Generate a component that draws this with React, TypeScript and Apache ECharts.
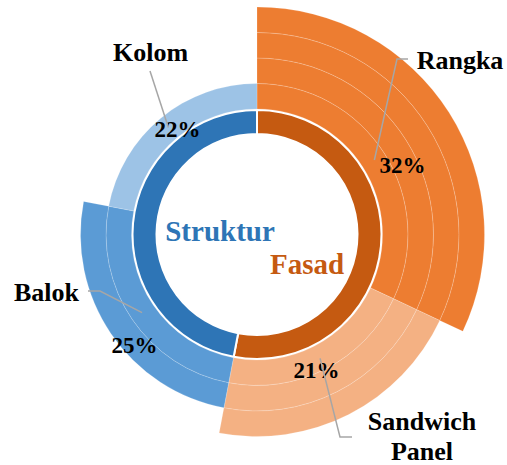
import React, { useEffect, useRef } from 'react';
import * as echarts from 'echarts';

// ---- data ----
const categories = ['Rangka', 'Sandwich Panel', 'Balok', 'Kolom'];
const shares = [32, 21, 25, 22];
// number of concentric bands each outer slice fills
const ringLevels = [4, 3, 2, 1];
const groups = ['Fasad', 'Struktur'];
const groupOfCategory = [0, 0, 1, 1];

// ---- styles / layout ----
const catColors = ['#ED7D31', '#F4B183', '#5B9BD5', '#9DC3E6'];
const groupColors = ['#C55A11', '#2E75B6'];
const CENTER: [number, number] = [257, 234.5];
const INNER_RADIUS: [number, number] = [100.5, 124.5];
const BAND_START = 125.5;
const BAND_WIDTH = 25.5;
const BAND_COUNT = 4;
const FONT = '"Liberation Serif", "Times New Roman", serif';

const PCT_POS = [
  [402.5, 165],
  [316.5, 370],
  [134.5, 345],
  [177.5, 129],
];
const NAME_POS = [
  [460, 60],
  [422, 436],
  [46.5, 292],
  [150.5, 52],
];
const NAME_LINE = [
  [[397, 59], [408, 59]],
  [[340, 437], [352, 437]],
  [[100, 291], [88, 291]],
  [[150, 71], [150, 71]],
];
const GROUP_POS = [
  [307, 264],
  [220, 231],
];

const groupShares = groups.map((_, g) =>
  shares.reduce((s, v, i) => (groupOfCategory[i] === g ? s + v : s), 0)
);

export default function App() {
  const ref = useRef<HTMLDivElement>(null);
  useEffect(() => {
    if (!ref.current) return;
    const chart = echarts.init(ref.current, undefined, { renderer: 'svg' });

    const bandSeries = Array.from({ length: BAND_COUNT }, (_, b) => ({
      type: 'pie',
      center: CENTER,
      radius: [BAND_START + b * BAND_WIDTH, BAND_START + (b + 1) * BAND_WIDTH],
      silent: true,
      avoidLabelOverlap: false,
      label: { show: false },
      labelLine: { show: false },
      data: categories.map((c, i) => ({
        name: c,
        value: shares[i],
        itemStyle:
          ringLevels[i] > b
            ? { color: catColors[i], borderColor: 'rgba(255,255,255,0.3)', borderWidth: 0.6 }
            : { color: 'rgba(0,0,0,0)', borderWidth: 0 },
      })),
    }));

    const option: any = {
      animation: false,
      backgroundColor: '#ffffff',
      series: [
        {
          type: 'pie',
          center: CENTER,
          radius: INNER_RADIUS,
          silent: true,
          avoidLabelOverlap: false,
          itemStyle: { borderColor: '#ffffff', borderWidth: 2 },
          label: {
            show: true,
            position: 'inside',
            formatter: '{b}',
            fontFamily: FONT,
            fontWeight: 'bold',
            fontSize: 29,
          },
          labelLine: { show: false },
          labelLayout: (p: any) => ({
            x: GROUP_POS[p.dataIndex][0],
            y: GROUP_POS[p.dataIndex][1],
            align: 'center',
            verticalAlign: 'middle',
          }),
          data: groups.map((g, i) => ({
            name: g,
            value: groupShares[i],
            itemStyle: { color: groupColors[i] },
            label: { color: groupColors[i] },
          })),
        },
        ...bandSeries,
        {
          type: 'pie',
          center: CENTER,
          radius: [0, 139],
          silent: true,
          z: 5,
          avoidLabelOverlap: false,
          itemStyle: { color: 'rgba(0,0,0,0)', borderWidth: 0 },
          label: {
            show: true,
            position: 'inside',
            formatter: '{d}%',
            color: '#000',
            fontFamily: FONT,
            fontWeight: 'bold',
            fontSize: 23,
          },
          labelLine: { show: false },
          labelLayout: (p: any) => ({
            x: PCT_POS[p.dataIndex][0],
            y: PCT_POS[p.dataIndex][1],
            align: 'center',
            verticalAlign: 'middle',
          }),
          data: categories.map((c, i) => ({ name: c, value: shares[i] })),
        },
        {
          type: 'pie',
          center: CENTER,
          radius: [0, 139],
          silent: true,
          z: 6,
          avoidLabelOverlap: false,
          itemStyle: { color: 'rgba(0,0,0,0)', borderWidth: 0 },
          label: {
            show: true,
            position: 'outside',
            formatter: (p: any) => String(p.name).replace(' ', '\n'),
            color: '#000',
            fontFamily: FONT,
            fontWeight: 'bold',
            fontSize: 26,
            lineHeight: 30,
            align: 'center',
          },
          labelLine: {
            show: true,
            length: 5,
            length2: 5,
            lineStyle: { color: '#A6A6A6', width: 1.5 },
          },
          labelLayout: (p: any) => {
            const i = p.dataIndex;
            let start = p.labelLinePoints && p.labelLinePoints[0];
            if (!start) {
              const total = shares.reduce((a, b) => a + b, 0);
              const before = shares.slice(0, i).reduce((a, b) => a + b, 0);
              const ang = ((before + shares[i] / 2) / total) * Math.PI * 2;
              start = [CENTER[0] + 139 * Math.sin(ang), CENTER[1] - 139 * Math.cos(ang)];
            }
            return {
              x: NAME_POS[i][0],
              y: NAME_POS[i][1],
              align: 'center',
              verticalAlign: 'middle',
              labelLinePoints: [start, NAME_LINE[i][0], NAME_LINE[i][1]],
            };
          },
          data: categories.map((c, i) => ({ name: c, value: shares[i] })),
        },
      ],
    };
    chart.setOption(option);
    return () => chart.dispose();
  }, []);

  return (
    <div
      ref={ref}
      style={{ position: 'fixed', left: 0, top: 0, width: 507, height: 465, background: '#fff' }}
    />
  );
}
